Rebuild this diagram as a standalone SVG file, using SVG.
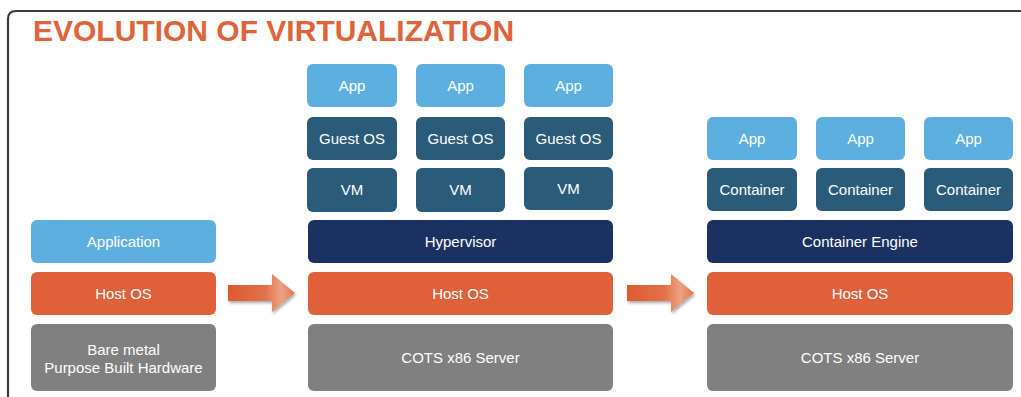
<svg xmlns="http://www.w3.org/2000/svg" width="1021" height="397" viewBox="0 0 1021 397">
  <style>
    .frame { fill: none; stroke: #3c3c3c; stroke-width: 2.2; }
    .title { font-family: "Liberation Sans", Arial, sans-serif; font-weight: bold; font-size: 30px; fill: #E0633A; }
    .lbl { font-family: "Liberation Sans", Arial, sans-serif; font-size: 15px; fill: #ffffff; text-anchor: middle; }
    .app { fill: #5DAFE0; }
    .guest { fill: #2A5B79; }
    .engine { fill: #1B3161; }
    .host { fill: #E0603A; }
    .hw { fill: #808080; }
  </style>
  <defs>
    <linearGradient id="arrowFill" x1="0" y1="0" x2="1" y2="0">
      <stop offset="0" stop-color="#DF5A30"/>
      <stop offset="0.55" stop-color="#E2704A"/>
      <stop offset="0.8" stop-color="#ECA283"/>
      <stop offset="1" stop-color="#E2754F"/>
    </linearGradient>
    <filter id="shadow" x="-20%" y="-30%" width="150%" height="170%">
      <feGaussianBlur in="SourceAlpha" stdDeviation="1.6"/>
      <feOffset dx="1" dy="2" result="b"/>
      <feComponentTransfer><feFuncA type="linear" slope="0.35"/></feComponentTransfer>
      <feMerge><feMergeNode/><feMergeNode in="SourceGraphic"/></feMerge>
    </filter>
    <path id="arrowShape" d="M0,11 H44 V0 L67,19 L44,38 V27 H0 Z"/>
  </defs>

  <rect width="1021" height="397" fill="#ffffff"/>

  <!-- outer frame: top edge and left edge with a rounded corner -->
  <path class="frame" d="M8,400 V19 Q8,11 16,11 H1025"/>

  <text class="title" x="33" y="41">EVOLUTION OF VIRTUALIZATION</text>

  <!-- Stack 1: bare metal -->
  <g id="app-bare">
    <rect class="app" x="31" y="220" width="185" height="43" rx="6"/>
    <text class="lbl" x="123.5" y="247">Application</text>
  </g>
  <g id="hostos-bare">
    <rect class="host" x="31" y="272" width="185" height="43" rx="6"/>
    <text class="lbl" x="123.5" y="299">Host OS</text>
  </g>
  <g id="hw-bare">
    <rect class="hw" x="31" y="324" width="185" height="67" rx="6"/>
    <text class="lbl" x="123.5" y="355">Bare metal</text>
    <text class="lbl" x="123.5" y="373">Purpose Built Hardware</text>
  </g>

  <!-- Stack 2: virtual machines -->
  <g id="vm1-app"><rect class="app" x="307" y="64" width="90" height="43" rx="6"/><text class="lbl" x="352" y="91">App</text></g>
  <g id="vm2-app"><rect class="app" x="416" y="64" width="89" height="43" rx="6"/><text class="lbl" x="460.5" y="91">App</text></g>
  <g id="vm3-app"><rect class="app" x="524" y="64" width="89" height="43" rx="6"/><text class="lbl" x="568.5" y="91">App</text></g>

  <g id="vm1-guest"><rect class="guest" x="307" y="117" width="90" height="43" rx="6"/><text class="lbl" x="352" y="144">Guest OS</text></g>
  <g id="vm2-guest"><rect class="guest" x="416" y="117" width="89" height="43" rx="6"/><text class="lbl" x="460.5" y="144">Guest OS</text></g>
  <g id="vm3-guest"><rect class="guest" x="524" y="117" width="89" height="43" rx="6"/><text class="lbl" x="568.5" y="144">Guest OS</text></g>

  <g id="vm1"><rect class="guest" x="307" y="168" width="90" height="44" rx="6"/><text class="lbl" x="352" y="195">VM</text></g>
  <g id="vm2"><rect class="guest" x="416" y="168" width="89" height="44" rx="6"/><text class="lbl" x="460.5" y="195">VM</text></g>
  <g id="vm3"><rect class="guest" x="524" y="167" width="89" height="43" rx="6"/><text class="lbl" x="568.5" y="194">VM</text></g>

  <g id="hypervisor">
    <rect class="engine" x="308" y="220" width="305" height="43" rx="6"/>
    <text class="lbl" x="460.5" y="247">Hypervisor</text>
  </g>
  <g id="hostos-vm">
    <rect class="host" x="308" y="272" width="305" height="43" rx="6"/>
    <text class="lbl" x="460.5" y="299">Host OS</text>
  </g>
  <g id="hw-vm">
    <rect class="hw" x="308" y="324" width="305" height="67" rx="6"/>
    <text class="lbl" x="460.5" y="363">COTS x86 Server</text>
  </g>

  <!-- Stack 3: containers -->
  <g id="ct1-app"><rect class="app" x="707" y="117" width="90" height="43" rx="6"/><text class="lbl" x="752" y="144">App</text></g>
  <g id="ct2-app"><rect class="app" x="816" y="117" width="89" height="43" rx="6"/><text class="lbl" x="860.5" y="144">App</text></g>
  <g id="ct3-app"><rect class="app" x="924" y="117" width="89" height="43" rx="6"/><text class="lbl" x="968.5" y="144">App</text></g>

  <g id="ct1"><rect class="guest" x="707" y="168" width="90" height="43" rx="6"/><text class="lbl" x="752" y="195">Container</text></g>
  <g id="ct2"><rect class="guest" x="816" y="168" width="89" height="43" rx="6"/><text class="lbl" x="860.5" y="195">Container</text></g>
  <g id="ct3"><rect class="guest" x="924" y="168" width="89" height="43" rx="6"/><text class="lbl" x="968.5" y="195">Container</text></g>

  <g id="container-engine">
    <rect class="engine" x="707" y="220" width="306" height="43" rx="6"/>
    <text class="lbl" x="860" y="247">Container Engine</text>
  </g>
  <g id="hostos-ct">
    <rect class="host" x="707" y="272" width="306" height="43" rx="6"/>
    <text class="lbl" x="860" y="299">Host OS</text>
  </g>
  <g id="hw-ct">
    <rect class="hw" x="707" y="324" width="306" height="67" rx="6"/>
    <text class="lbl" x="860" y="363">COTS x86 Server</text>
  </g>

  <!-- transition arrows -->
  <g id="connectors" filter="url(#shadow)">
    <use href="#arrowShape" x="228" y="274" fill="url(#arrowFill)"/>
    <use href="#arrowShape" x="627" y="274" fill="url(#arrowFill)"/>
  </g>
</svg>
